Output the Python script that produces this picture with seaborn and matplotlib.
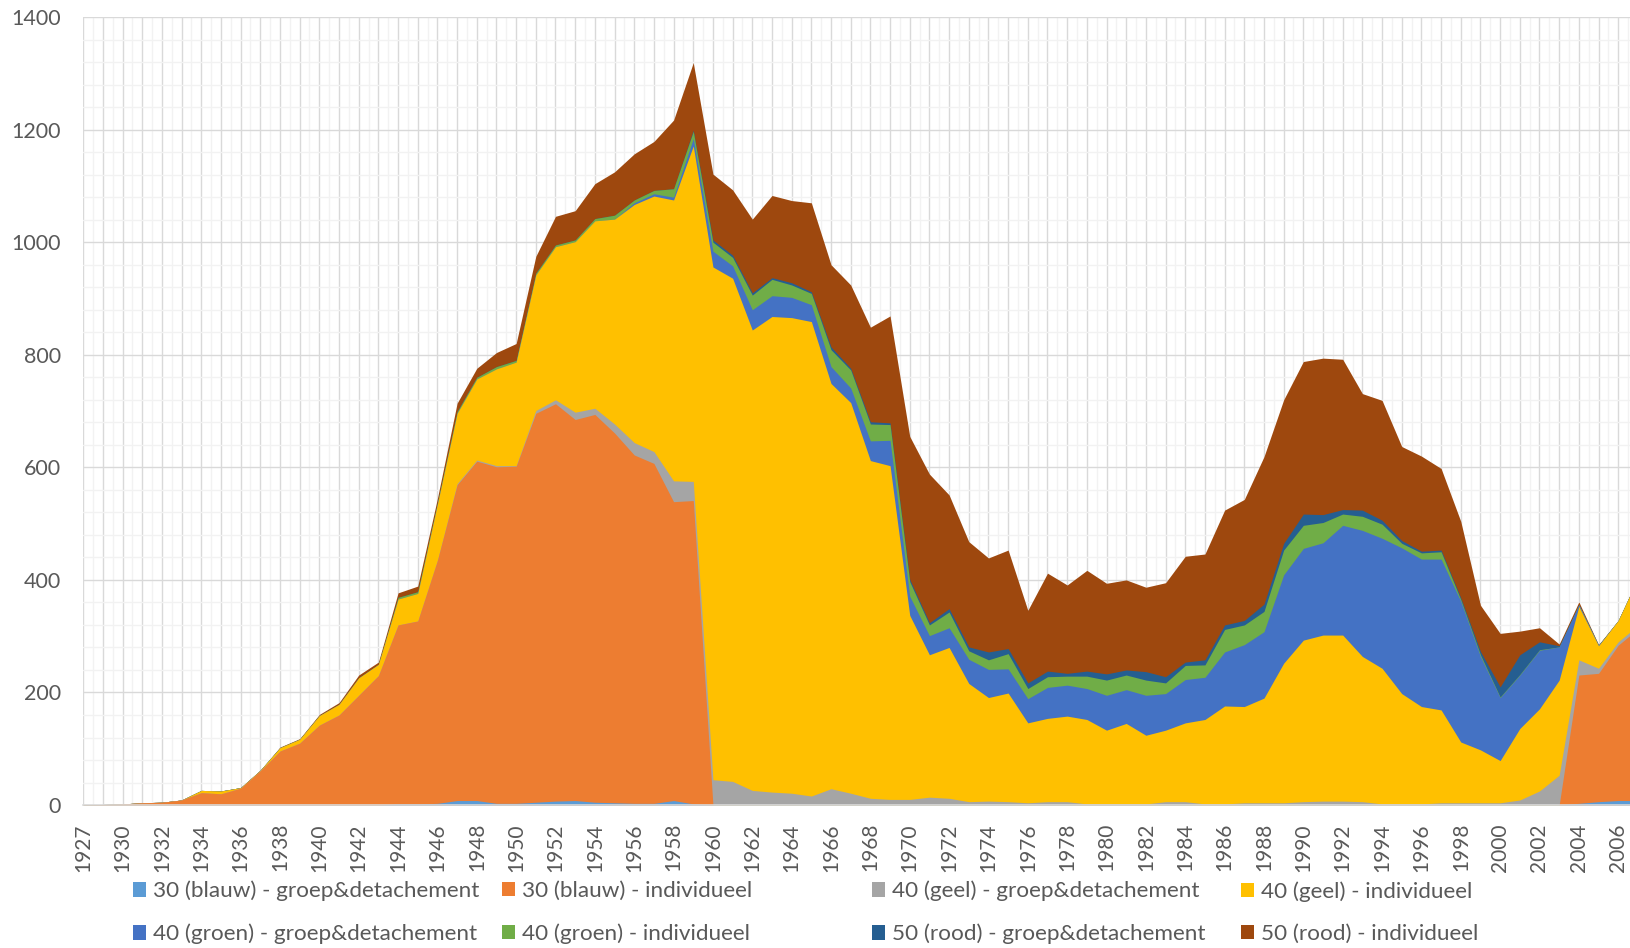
import numpy as np
import pandas as pd
import matplotlib
matplotlib.use("Agg")
import matplotlib.pyplot as plt
import seaborn as sns
from matplotlib.patches import Patch
from matplotlib.ticker import MultipleLocator, FixedLocator

# ---------------- data ----------------
years = [1927] + list(range(1929, 2008))

blauw_groep = [0]*16 + [2, 2, 3, 8, 8, 3, 3, 5, 7, 8, 5, 4, 3, 3, 8, 2] + [0]*44 + [3, 6, 8, 8]
blauw_indiv = [0.5, 1, 2, 4, 5, 9, 22, 20, 30, 61, 96, 110, 142, 160, 195, 230, 318, 325, 432, 561,
               603, 598, 599, 691, 706, 677, 689, 657, 619, 604, 531, 539] + [0]*44 + [228, 228, 276, 305]
geel_groep = [0]*19 + [2, 2, 2, 1, 5, 7, 13, 11, 16, 22, 21, 37, 34, 45, 42, 26, 23, 21, 16, 29, 21,
                       12, 10, 10, 14, 12, 6, 7, 6, 4, 6, 6, 2, 2, 2, 2, 6, 6, 2, 2, 4, 4, 4, 6, 7, 7,
                       6, 2, 2, 2, 4, 4, 4, 4, 9, 25, 53, 27, 9, 6, 6]
geel_indiv = [0, 0, 0, 0, 0, 0, 4, 5, 1, 1, 6, 7, 17, 19, 31, 20, 46, 49, 100, 125, 144, 172, 184, 241,
              272, 303, 333, 364, 423, 454, 499, 596, 911, 894, 818, 845, 845, 843, 720, 694, 600, 593,
              327, 253, 268, 210, 184, 193, 142, 148, 152, 150, 131, 143, 122, 127, 140, 150, 174, 171,
              186, 248, 287, 295, 295, 258, 241, 196, 173, 165, 108, 94, 75, 127, 146, 169, 95, 40, 38, 84]
groen_groep = [0]*28 + [3, 4, 5, 13, 28, 22, 36, 37, 36, 30, 30, 26, 35, 45, 34, 34, 35, 43, 50, 43, 43,
                        55, 55, 55, 62, 60, 71, 65, 77, 75, 96, 110, 118, 157, 163, 164, 195, 224, 231,
                        259, 262, 268, 250, 166, 112, 95, 104, 59, 3, 1, 0, 0]
groen_indiv = [0]*16 + [3, 3, 2, 3, 3, 4, 3, 3, 3, 3, 4, 7, 5, 6, 15, 13, 16, 15, 26, 29, 22, 20, 30, 32,
                        30, 28, 26, 19, 28, 15, 17, 27, 18, 19, 16, 22, 27, 26, 27, 19, 25, 22, 40, 35, 36,
                        44, 41, 36, 20, 25, 25, 8, 11, 13, 3, 3, 1, 1, 1, 0, 0, 0, 0, 0]
rood_groep = [0]*31 + [2, 4, 4, 4, 3, 4, 3, 5, 3, 4, 3, 4, 4, 6, 7, 14, 9, 10, 10, 5, 9, 11, 9, 15, 11,
                       6, 9, 8, 8, 13, 12, 20, 14, 8, 11, 7, 5, 3, 3, 3, 6, 18, 35, 14, 2, 0, 0, 0, 0]
rood_indiv = [0]*10 + [1, 1, 2, 3, 5, 4, 8, 10, 8, 15, 16, 25, 30, 30, 51, 52, 62, 77, 82, 87, 122, 120,
                       117, 116, 131, 146, 146, 158, 146, 148, 168, 190, 254, 264, 202, 187, 167, 175, 129,
                       174, 157, 179, 161, 160, 150, 167, 188, 188, 204, 215, 262, 255, 271, 278, 267, 207,
                       213, 167, 169, 145, 136, 82, 95, 42, 25, 3, 5, 1, 0, 0]

series_names = ["30 (blauw) - groep&detachement", "30 (blauw) - individueel",
                "40 (geel) - groep&detachement", "40 (geel) - individueel",
                "40 (groen) - groep&detachement", "40 (groen) - individueel",
                "50 (rood) - groep&detachement", "50 (rood) - individueel"]
colors = ["#5B9BD5", "#ED7D31", "#A5A5A5", "#FFC000", "#4472C4", "#70AD47", "#255E91", "#9E480E"]

df = pd.DataFrame({
    "jaar": [str(y) for y in years],
    series_names[0]: blauw_groep, series_names[1]: blauw_indiv,
    series_names[2]: geel_groep, series_names[3]: geel_indiv,
    series_names[4]: groen_groep, series_names[5]: groen_indiv,
    series_names[6]: rood_groep, series_names[7]: rood_indiv,
})

# ---------------- style ----------------
sns.set_theme(style="white")
plt.rcParams["font.family"] = ["Lato", "DejaVu Sans"]
TXT = "#595959"
GRID_MAJ = "#D9D9D9"
GRID_MIN = "#F2F2F2"

fig = plt.figure(figsize=(16.31, 9.48), dpi=100)
ax = fig.add_axes([0.051, 0.1508, 0.949, 0.8312])

x = np.arange(len(df))
cum = df[series_names].cumsum(axis=1)
# draw from the top layer down so lower layers overlay (no seams)
for k in range(len(series_names) - 1, -1, -1):
    ax.fill_between(x, 0, cum[series_names[k]].values, color=colors[k], linewidth=0, zorder=2)

ax.set_xlim(0, 78.65)
ax.set_ylim(0, 1400)

# grid
ax.set_axisbelow(True)
ax.yaxis.set_major_locator(MultipleLocator(200))
ax.yaxis.set_minor_locator(MultipleLocator(40))
ax.xaxis.set_major_locator(FixedLocator(list(x)))
ax.xaxis.set_minor_locator(FixedLocator(list(x + 0.5)))
ax.grid(which="minor", color=GRID_MIN, linewidth=1.0, zorder=0)
ax.grid(which="major", color=GRID_MAJ, linewidth=1.0, zorder=0.5)

labels = [df["jaar"][i] if (i % 2 == 0 and i <= 78) else "" for i in x]
ax.set_xticklabels(labels, rotation=90, color=TXT, fontsize=15)
ax.tick_params(axis="x", which="major", length=6, width=1, color=GRID_MAJ, direction="out", pad=7)
ax.tick_params(axis="x", which="minor", length=0)
ax.tick_params(axis="y", which="both", length=0, pad=16, labelcolor=TXT, labelsize=15.5)
for lab in ax.get_yticklabels():
    lab.set_color(TXT)

for s in ["top", "right", "left"]:
    ax.spines[s].set_visible(False)
ax.spines["bottom"].set_color(GRID_MAJ)
ax.spines["bottom"].set_linewidth(1.2)
ax.set_xlabel("")
ax.set_ylabel("")

# legend: 4 columns x 2 rows, fixed column positions
col_x = [133, 502, 872, 1241]
for c in range(4):
    idx = [c, c + 4]
    handles = [Patch(facecolor=colors[i], edgecolor="none") for i in idx]
    leg = fig.legend(handles, [series_names[i] for i in idx], loc="center left",
                     bbox_to_anchor=(col_x[c] / 1631, 0.0373), frameon=False,
                     fontsize=16.2, handlelength=0.6, handleheight=0.6,
                     handletextpad=0.3, labelspacing=1.0, borderaxespad=0, borderpad=0)
    for t in leg.get_texts():
        t.set_color(TXT)

fig.savefig("out.png", dpi=100)
